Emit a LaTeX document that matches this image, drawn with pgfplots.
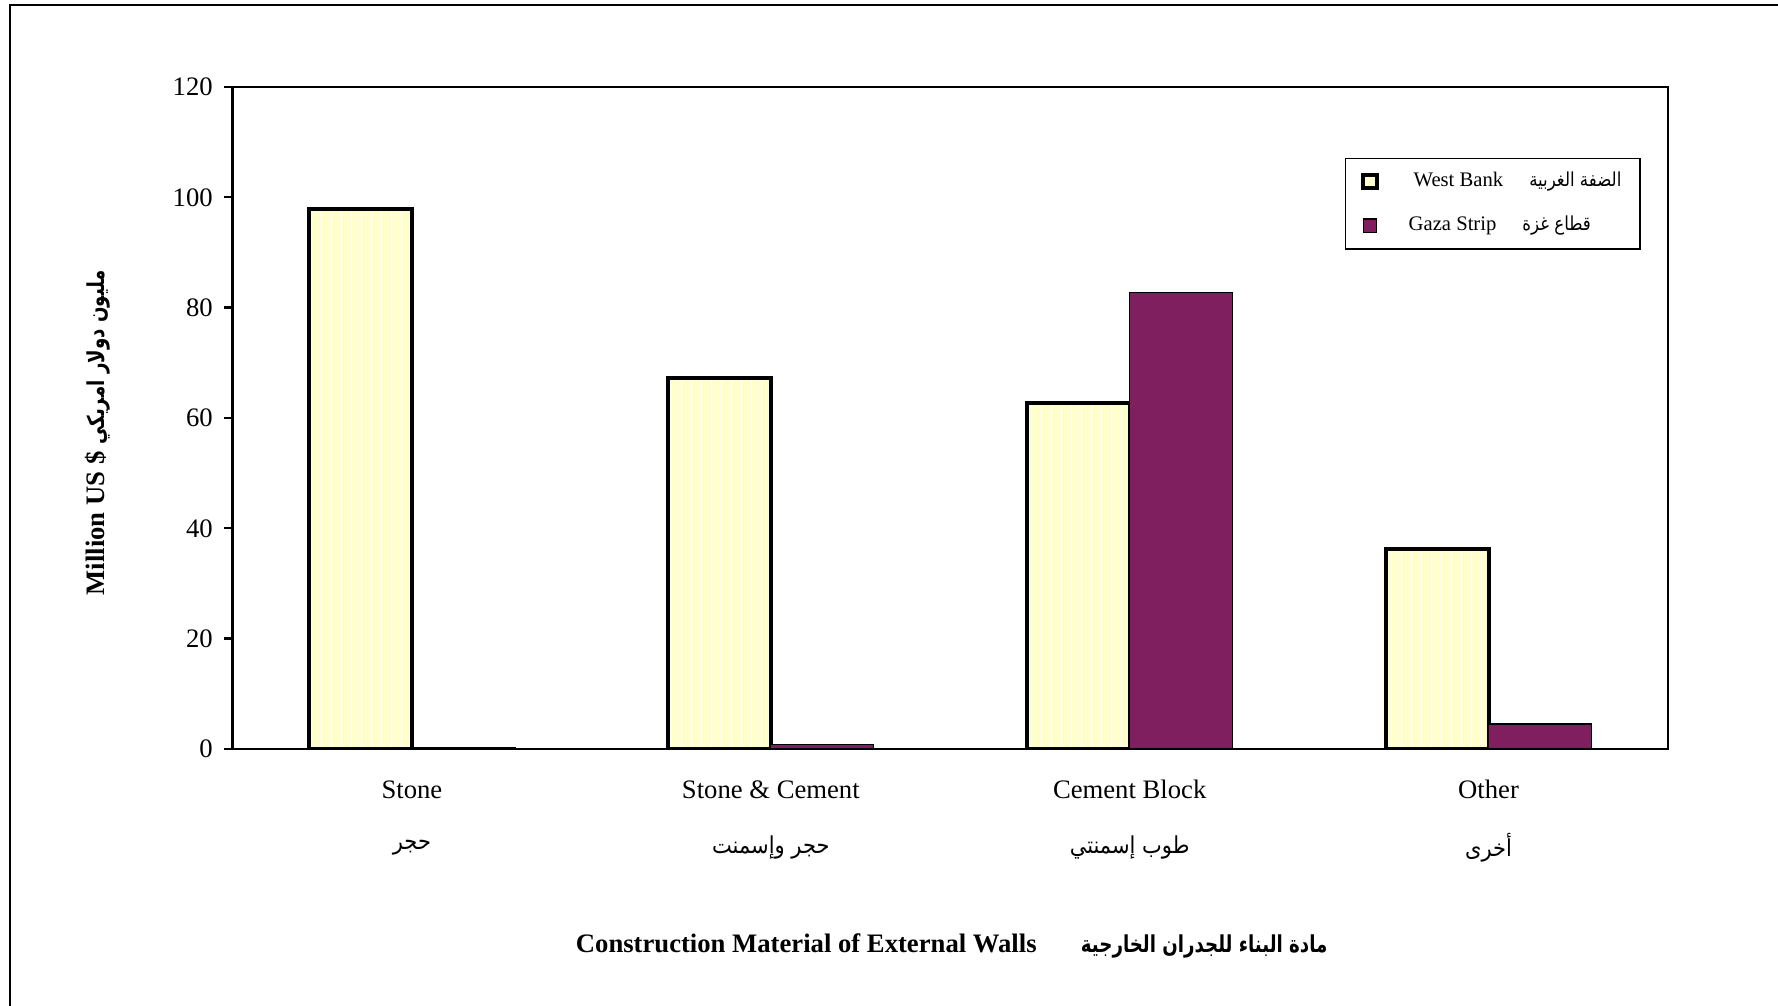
\documentclass[border=0pt]{standalone}
\usepackage{fontspec}
\usepackage{graphicx}
\setmainfont{Liberation Serif}
\newfontfamily\arabicfont[Script=Arabic]{DejaVu Sans}
\TeXXeTstate=1
\usepackage{pgfplots}
\pgfplotsset{compat=1.18}
\usetikzlibrary{patterns}
\definecolor{wby}{HTML}{FFFFCC}
\definecolor{gz}{HTML}{7F1F5F}
% #1 horizontal scale, #2 font size, #3 text (with \beginR ... \endR written in place)
\newcommand{\arS}[3]{\scalebox{#1}[1]{\arabicfont\fontsize{#2}{#2}\selectfont #3}}

\begin{document}
\begin{tikzpicture}
\useasboundingbox (0,0) rectangle (533.4pt,301.8pt);
\draw[line width=0.4pt] (3pt,-5pt) -- (3pt,300.3pt) -- (540pt,300.3pt);
\begin{axis}[
  at={(69.75pt,77.1pt)}, anchor=south west,
  scale only axis, width=430.65pt, height=198.6pt,
  xmin=-0.5, xmax=3.5, ymin=0, ymax=120,
  ybar=0pt, bar width=0.287,
  ytick={0,20,...,120},
  ytick pos=left,
  xtick={0,1,2,3},
  xticklabels={Stone, Stone \& Cement, Cement Block, Other},
  extra x ticks={0,1,2,3},
  extra x tick labels={
    \arS{0.9}{7}{\beginR حجر\endR},
    \arS{0.9}{7}{\beginR حجر وإسمنت\endR},
    \arS{0.9}{7}{\beginR طوب إسمنتي\endR},
    \arS{0.9}{7}{\beginR أخرى\endR}},
  extra x tick style={major tick length=0pt, tick style={draw=none}, xticklabel style={yshift=-19.8pt}},
  x tick style={draw=none},
  xticklabel style={anchor=center, yshift=-9.7pt, font=\fontsize{8}{9.6}\selectfont},
  yticklabel style={font=\fontsize{8}{9.6}\selectfont},
  /pgf/number format/assume math mode=true,
  tick align=outside,
  major tick length=2.4pt,
  y tick style={line width=0.7pt, black},
  axis line style={line width=0.7pt},
  every axis y label/.style={at={(axis description cs:-0.094,0.478)}, rotate=90, anchor=center, font=\fontsize{8}{9.6}\selectfont},
  ylabel={\textbf{Million US \$} \arS{0.78}{7}{\bfseries\beginR مليون دولار امريكي\endR}},
  every axis x label/.style={at={(axis description cs:0.501,-0.298)}, anchor=center, font=\fontsize{8}{9.6}\selectfont},
  xlabel={\textbf{Construction Material of External Walls}\hspace{13.3pt}\arS{0.78}{7}{\bfseries\beginR مادة البناء للجدران الخارجية\endR}},
  legend style={at={(axis description cs:0.775,0.893)}, anchor=north west, draw=black, line width=0.4pt,
    font=\fontsize{6.2}{7}\selectfont, row sep=3.3pt, inner xsep=4.7pt, inner ysep=2pt},
  legend cell align=left,
  legend image code/.code={\draw[#1] (0pt,-2pt) rectangle (4pt,2pt);},
]
\addplot[fill=wby, draw=black, line width=1.2pt, postaction={pattern=vertical lines, pattern color=white}]
  coordinates {(0,97.8) (1,67.3) (2,62.8) (3,36.2)};
\addplot[fill=gz, draw=black, line width=0.4pt]
  coordinates {(0,0.3) (1,0.8) (2,82.7) (3,4.5)};
\legend{\makebox[69.7pt][l]{\hspace{8.5pt}West Bank\hspace{7.8pt}\arS{0.86}{5.8}{\beginR الضفة الغربية\endR}\hfill},
        \makebox[69.7pt][l]{\hspace{7pt}Gaza Strip\hspace{7.8pt}\arS{0.86}{5.8}{\beginR قطاع غزة\endR}\hfill}}
\end{axis}
\end{tikzpicture}
\end{document}
